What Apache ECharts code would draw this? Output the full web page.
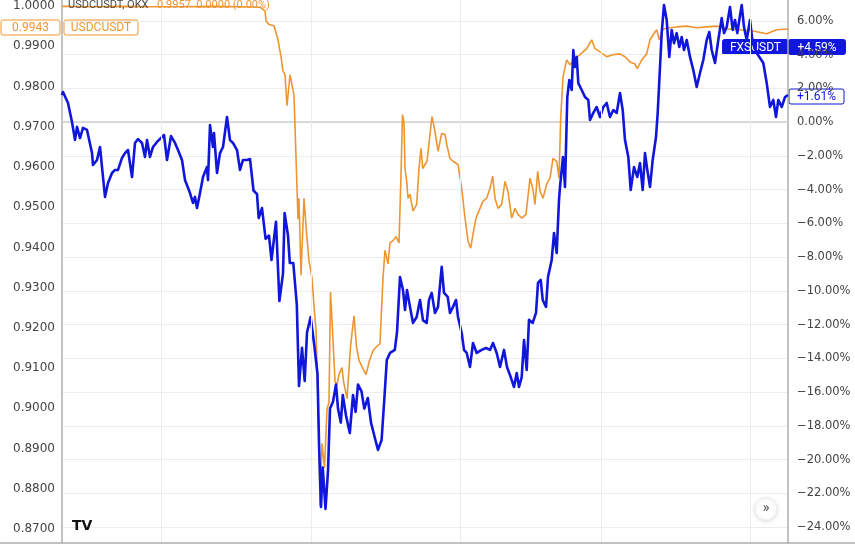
<!DOCTYPE html>
<html>
<head>
<meta charset="utf-8">
<script src="https://cdn.jsdelivr.net/npm/echarts@6/dist/echarts.min.js"></script>
<style>
html,body{margin:0;padding:0;background:#ffffff;}
#chart{width:855px;height:548px;}
</style>
</head>
<body>
<div id="chart"></div>
<script>
// ---------- DATA ----------
// time index (bars) and USDC/USDT price
const usdcSeries = [[0,0.9999],[30,0.9998],[60,0.9999],[90,0.9998],[120,0.9998],[150,0.9999],[180,0.9998],[198,0.9997],[200,0.9997],[203,0.9988],[204,0.9963],[207,0.9954],[212,0.9951],[216,0.9916],[219,0.9874],[221,0.9839],[223,0.9829],[225,0.9752],[228,0.9829],[230,0.9804],[232,0.9778],[234,0.9624],[236,0.9470],[237,0.9522],[239,0.9331],[242,0.9522],[244,0.9453],[247,0.9366],[250,0.9324],[252,0.9255],[254,0.9195],[255.5,0.9067],[257,0.8913],[258,0.8757],[260,0.8913],[262.5,0.8852],[265,0.8998],[267,0.9015],[268.5,0.9289],[270.5,0.9195],[273,0.9067],[275,0.9058],[277,0.9084],[280,0.9101],[281.5,0.9067],[285,0.9024],[288.5,0.9153],[292,0.9230],[294.5,0.9153],[297,0.9119],[300.5,0.9101],[304,0.9084],[307.5,0.9119],[311,0.9143],[314.5,0.9153],[318,0.9161],[321,0.9324],[323,0.9393],[326,0.9359],[328,0.9411],[331.5,0.9418],[334,0.9427],[337,0.9411],[339,0.9582],[340.5,0.9730],[342,0.9710],[343,0.9596],[344.7,0.9564],[346,0.9522],[348,0.9532],[351,0.9490],[354.7,0.9507],[357,0.9596],[359,0.9646],[360.7,0.9596],[363,0.9606],[365,0.9614],[368,0.9681],[370,0.9725],[373,0.9688],[376,0.9639],[379.7,0.9683],[383,0.9681],[384.7,0.9656],[388,0.9621],[391,0.9614],[396,0.9606],[399.7,0.9547],[403,0.9473],[406,0.9416],[408.7,0.9398],[411,0.9433],[414,0.9473],[418,0.9497],[421,0.9515],[424.7,0.9522],[428,0.9547],[430.7,0.9577],[433,0.9522],[436,0.9497],[439.7,0.9507],[443,0.9564],[446,0.9539],[449.7,0.9473],[453,0.9497],[456,0.9482],[459.7,0.9473],[464,0.9482],[468,0.9572],[470.7,0.9547],[473,0.9507],[475.7,0.9589],[478,0.9539],[481,0.9522],[484.7,0.9557],[488,0.9572],[491,0.9621],[494.7,0.9614],[497,0.9572],[498.7,0.9720],[501,0.9824],[504.7,0.9866],[508,0.9854],[513,0.9869],[518,0.9879],[524.7,0.9894],[529.7,0.9916],[533,0.9894],[538,0.9886],[544.7,0.9874],[551,0.9879],[558,0.9881],[563,0.9874],[568,0.9861],[573,0.9856],[575.3,0.9844],[579.7,0.9866],[584.7,0.9881],[588,0.9916],[591,0.9928],[594.7,0.9941],[597.3,0.9916],[601,0.9943],[608,0.9946],[614.7,0.9948],[624.7,0.9950],[634.7,0.9946],[644.7,0.9948],[654.7,0.9950],[664.7,0.9943],[678,0.9941],[691,0.9938],[704.7,0.9931],[714.7,0.9941],[726,0.9943]];

// time index and FXS/USDT change in percent
const fxsSeries = [[0,1.6],[1,1.79],[3,1.73],[6,1.14],[10,0.01],[13,-1.05],[15,-0.28],[18,-0.94],[21,-0.34],[25,-0.46],[30,-1.83],[31,-2.54],[35,-2.24],[38,-1.47],[40,-2.66],[43,-4.43],[46,-3.61],[50,-3.01],[53,-2.83],[56,-2.83],[60,-2.12],[63,-1.83],[66,-1.65],[70,-3.25],[73,-1.23],[76,-1.00],[80,-1.23],[83,-2.06],[85,-1.06],[88,-2.06],[91,-1.47],[95,-1.17],[100,-0.88],[102,-0.76],[105,-2.24],[109,-0.82],[113,-1.23],[116,-1.65],[120,-2.24],[123,-3.43],[128,-4.20],[131,-4.79],[133,-4.43],[135,-5.09],[138,-4.20],[141,-3.25],[145,-2.66],[146,-3.43],[148,-0.17],[151,-1.47],[152,-0.64],[155,-3.01],[158,-1.83],[161,-1.47],[165,0.31],[168,-1.06],[171,-1.23],[175,-1.65],[178,-2.83],[181,-2.24],[185,-2.24],[188,-2.18],[191.5,-4.05],[195,-4.26],[196.7,-5.68],[200,-5.09],[203.6,-6.92],[207,-6.72],[209.5,-8.17],[214,-5.90],[217.4,-10.60],[221,-8.97],[222.6,-5.38],[226,-6.72],[227.8,-8.35],[231.3,-8.35],[234.8,-10.82],[237,-15.64],[240,-13.38],[242.7,-15.34],[245,-12.47],[248.6,-11.55],[252,-13.09],[255.5,-14.93],[257,-19.02],[259,-22.81],[260.7,-20.47],[263.5,-22.93],[266,-20.67],[268,-16.98],[271,-16.57],[274,-15.55],[276,-16.98],[278.8,-17.81],[280.8,-16.17],[284,-17.39],[287.8,-18.43],[291,-16.17],[293.6,-17.18],[296,-15.55],[299.5,-15.96],[302.3,-16.98],[305.8,-16.35],[309,-17.81],[313.4,-18.84],[316,-19.43],[319.6,-18.84],[322.4,-16.35],[324.8,-14.10],[328,-13.68],[332.8,-13.50],[335,-12.47],[338,-9.18],[341,-9.95],[343,-11.13],[345,-9.95],[348,-10.95],[351,-11.90],[354.7,-11.55],[358,-10.54],[361,-11.75],[364.7,-11.90],[367,-10.54],[369.7,-10.12],[373,-11.31],[376,-10.95],[379.7,-8.58],[382,-10.12],[385.7,-10.36],[388,-11.31],[391,-10.95],[394,-10.54],[396,-11.55],[399.7,-12.50],[402,-13.50],[404.7,-13.68],[408,-14.51],[411,-13.09],[414.7,-13.68],[419.7,-13.50],[424,-13.39],[428,-13.50],[431,-13.09],[434.7,-13.68],[438,-14.51],[442,-13.50],[445,-14.51],[448.7,-15.11],[452,-15.70],[454.7,-14.87],[457,-15.70],[459.7,-15.11],[462,-12.92],[464.7,-14.69],[467,-11.72],[470.7,-11.90],[474,-11.31],[476,-9.53],[478.7,-9.35],[480.7,-10.54],[484,-10.95],[486,-9.18],[489.7,-8.17],[492,-6.57],[494.7,-7.76],[497,-4.61],[498,-3.84],[501,-2.06],[503,-3.84],[505.3,1.49],[507.3,2.50],[509.7,1.91],[511.3,4.28],[513,3.27],[514.7,3.87],[516.3,2.32],[519.7,1.91],[523,1.49],[526.3,1.32],[528,0.13],[531.3,0.55],[534.7,0.90],[538,0.31],[541.3,0.90],[544.7,1.14],[548,0.31],[551.3,0.72],[554.7,0.55],[558,1.73],[560.7,0.72],[563,-1.06],[566.3,-2.06],[568.7,-4.02],[572,-2.66],[575.3,-3.25],[578,-2.42],[580.7,-4.02],[583,-1.83],[585.3,-2.83],[588,-3.84],[590.7,-2.24],[594,-0.88],[595.7,0.55],[598,3.27],[599.7,5.28],[602,6.95],[604.7,6.06],[607.3,3.87],[609.7,5.47],[612,4.69],[614.7,5.28],[617.3,4.46],[619.7,5.05],[622,4.28],[624.7,4.87],[628,3.87],[631.3,3.09],[634.7,2.09],[638,2.92],[641.3,3.69],[644.7,4.87],[647.3,5.35],[649.7,4.28],[653,3.51],[656.3,4.87],[659.7,6.17],[662,5.28],[664.7,5.64],[668,6.83],[670.7,5.47],[673,6.06],[675.3,5.28],[677.3,6.06],[679.7,6.95],[682,5.64],[684.7,4.87],[688,6.06],[690.7,4.69],[694.7,4.10],[698,3.81],[701.3,3.51],[704.7,2.32],[708,0.90],[711.3,1.32],[714,0.31],[716.3,1.32],[719.7,0.90],[723,1.49],[726,1.61]];

// day separators (time index)
const dayLines = [99, 249, 398, 539, 688];
// header / label texts
const usdcName = 'USDCUSDT';
const fxsName = 'FXSUSDT';
const headerQuote = '0.9957  0.0000 (0.00%)';
const fxsMarker = 4.59;

// ---------- CHART ----------
const ORANGE = '#ef9530';
const BLUE = '#1016dc';
const FONT = 'Roboto, "Liberation Sans", sans-serif';
const AXFONT = '"DejaVu Sans", sans-serif';
const chart = echarts.init(document.getElementById('chart'), null, {renderer: 'canvas'});

const lastUsdc = usdcSeries[usdcSeries.length - 1][1];
const lastFxs = fxsSeries[fxsSeries.length - 1][1];
const fmtPct = v => (v >= 0 ? '+' : '') + v.toFixed(2) + '%';

function box(x, y, w, h, fill, stroke, text, color) {
  return {
    type: 'group', left: x, top: y, z: 100,
    children: [
      {type: 'rect', shape: {x: 0, y: 0, width: w, height: h, r: 2},
       style: {fill: fill, stroke: stroke, lineWidth: 1}},
      {type: 'text', x: w / 2, y: h / 2 + 0.5,
       style: {text: text, fill: color, font: '12px ' + FONT, align: 'center', verticalAlign: 'middle'}}
    ]
  };
}

const option = {
  animation: false,
  backgroundColor: '#ffffff',
  grid: [
    {left: 62, right: 67, top: 0, bottom: 5},
    {left: 62, right: 67, top: 21, bottom: 21},
    {left: 62, right: 67, top: 4, bottom: 19}
  ],
  xAxis: [
    {gridIndex: 0, type: 'value', min: 0, max: 726,
     axisLine: {show: false}, axisTick: {show: false}, axisLabel: {show: false}, splitLine: {show: false}},
    {gridIndex: 1, type: 'value', min: 0, max: 726, show: false},
    {gridIndex: 2, type: 'value', min: 0, max: 726, show: false}
  ],
  yAxis: [
    {gridIndex: 0, type: 'value', position: 'left', min: 0, max: 1,
     axisLine: {show: true, lineStyle: {color: '#aeaeae', width: 1.5}},
     axisTick: {show: false}, axisLabel: {show: false}, splitLine: {show: false}},
    {gridIndex: 0, type: 'value', position: 'right', min: 0, max: 1,
     axisLine: {show: true, lineStyle: {color: '#aeaeae', width: 1.5}},
     axisTick: {show: false}, axisLabel: {show: false}, splitLine: {show: false}},
    {gridIndex: 1, type: 'value', position: 'right', min: -24, max: 6, interval: 2,
     axisLine: {show: false}, axisTick: {show: false},
     axisLabel: {
       margin: 9, color: '#444444', fontSize: 11.5, fontFamily: AXFONT,
       formatter: v => {
         const r = Math.round(v);
         return (r < 0 ? '\u2212' : '') + Math.abs(r).toFixed(2) + '%';
       }
     },
     splitLine: {show: true, lineStyle: {color: '#ececec', width: 1}}},
    {gridIndex: 2, type: 'value', position: 'left', min: 0.87, max: 1.0, interval: 0.01,
     axisLine: {show: false}, axisTick: {show: false},
     axisLabel: {margin: 7, color: '#444444', fontSize: 12, fontFamily: AXFONT,
       formatter: v => v.toFixed(4)},
     splitLine: {show: false}}
  ],
  series: [
    {
      name: 'frame', type: 'line', xAxisIndex: 0, yAxisIndex: 0, data: [], silent: true,
      markLine: {
        silent: true, symbol: ['none', 'none'], label: {show: false}, animation: false,
        lineStyle: {color: '#ececec', type: 'solid', width: 1},
        data: dayLines.map(d => ({xAxis: d}))
      }
    },
    {
      name: usdcName, type: 'line', xAxisIndex: 2, yAxisIndex: 3,
      data: usdcSeries, showSymbol: false, symbol: 'none', clip: false, z: 3,
      lineStyle: {color: ORANGE, width: 1.6}
    },
    {
      name: fxsName, type: 'line', xAxisIndex: 1, yAxisIndex: 2,
      data: fxsSeries, showSymbol: false, symbol: 'none', clip: false, z: 4,
      lineStyle: {color: BLUE, width: 2.6, join: 'round'},
      markLine: {
        silent: true, symbol: ['none', 'none'], label: {show: false}, animation: false, z: 1,
        lineStyle: {color: '#cfcfcf', type: 'solid', width: 1.5},
        data: [{yAxis: 0}]
      }
    }
  ],
  graphic: [
    {type: 'line', z: 50, shape: {x1: 0, y1: 543, x2: 855, y2: 543},
     style: {stroke: '#aeaeae', lineWidth: 1.5}},
    {type: 'text', left: 68, top: 0, z: 100,
     style: {text: usdcName + ', OKX', fill: '#4a4a4a', font: '11px ' + FONT}},
    {type: 'text', left: 157, top: 0, z: 100,
     style: {text: headerQuote, fill: ORANGE, font: '11px ' + FONT}},
    box(0.5, 19.5, 59, 15, '#ffffff', ORANGE, lastUsdc.toFixed(4), ORANGE),
    box(63.5, 19.5, 74, 15, '#ffffff', ORANGE, usdcName, ORANGE),
    box(722, 39, 66, 15, BLUE, BLUE, fxsName, '#ffffff'),
    box(788, 39, 57, 15, BLUE, BLUE, fmtPct(fxsMarker), '#ffffff'),
    box(788.5, 88.5, 55, 15, '#ffffff', BLUE, fmtPct(lastFxs), BLUE),
    {type: 'text', left: 72, top: 519, z: 100,
     style: {text: 'TV', fill: '#111111', font: '900 14px "DejaVu Sans", sans-serif'}},
    {type: 'circle', z: 100, shape: {cx: 766, cy: 509, r: 11},
     style: {fill: '#ffffff', stroke: '#eeeeee', lineWidth: 1, shadowBlur: 4, shadowColor: 'rgba(0,0,0,0.12)', shadowOffsetY: 1}},
    {type: 'text', z: 101, x: 766, y: 508,
     style: {text: '\u00bb', fill: '#555555', font: '15px ' + FONT, align: 'center', verticalAlign: 'middle'}}
  ]
};
chart.setOption(option);
</script>
</body>
</html>
